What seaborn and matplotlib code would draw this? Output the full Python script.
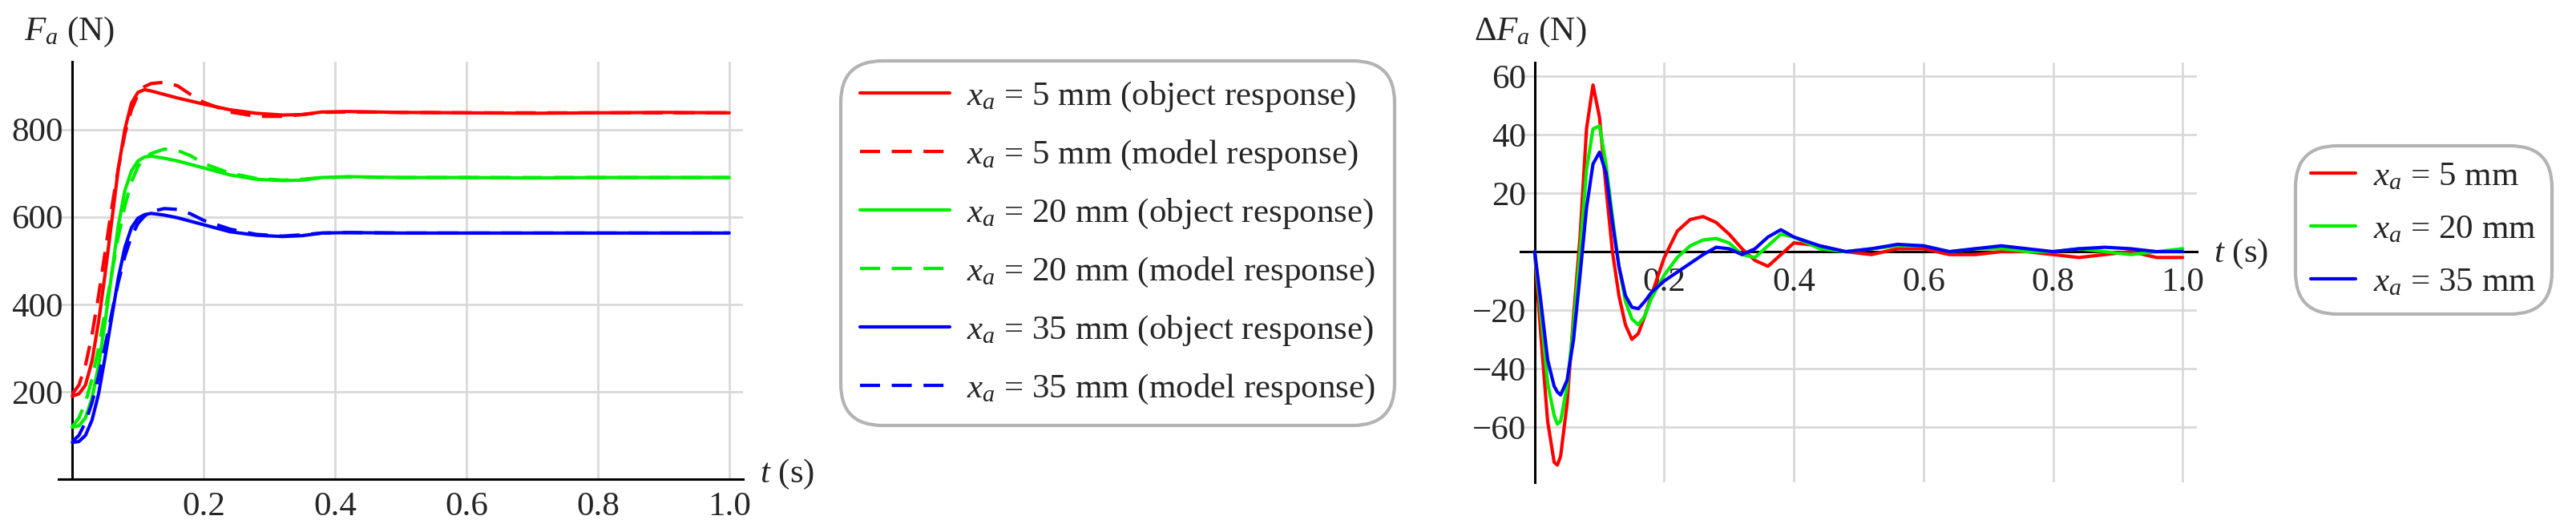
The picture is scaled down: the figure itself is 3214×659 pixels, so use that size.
import numpy as np
import pandas as pd
import seaborn as sns
import matplotlib
matplotlib.use("Agg")
import matplotlib.pyplot as plt
from matplotlib.ticker import FixedLocator
from matplotlib.lines import Line2D

sns.set_style("white")
plt.rcParams['font.family'] = ['Liberation Serif', 'DejaVu Serif']
plt.rcParams['mathtext.fontset'] = 'custom'
plt.rcParams['mathtext.rm'] = 'Liberation Serif'
plt.rcParams['mathtext.it'] = 'Liberation Serif:italic'

# ---------- data: left panel (force response) ----------
t_left = [0, 0.01, 0.02, 0.03, 0.04, 0.05, 0.06, 0.07, 0.08, 0.09, 0.10, 0.11, 0.12,
          0.14, 0.16, 0.18, 0.20, 0.24, 0.28, 0.32, 0.35, 0.38, 0.42, 0.5, 0.6, 0.7, 0.8, 0.9, 1.0]
red_obj   = [190, 195, 215, 270, 360, 470, 590, 710, 800, 860, 885, 891, 888,
             880, 872, 865, 858, 845, 837, 833, 834, 840, 841, 839, 838, 837, 838, 839, 838]
red_mod   = [195, 215, 260, 330, 420, 520, 620, 710, 790, 845, 880, 898, 905,
             908, 900, 880, 862, 840, 830, 830, 834, 839, 840, 839, 838, 838, 838, 838, 838]
green_obj = [119, 122, 140, 185, 260, 360, 470, 580, 660, 705, 728, 737, 739,
             734, 728, 720, 712, 696, 686, 683, 684, 690, 692, 690, 690, 689, 690, 690, 690]
green_mod = [120, 140, 175, 230, 300, 385, 470, 555, 625, 680, 715, 735, 745,
             755, 752, 740, 722, 700, 688, 684, 686, 690, 691, 690, 690, 690, 690, 690, 690]
blue_obj  = [84, 86, 100, 135, 195, 280, 370, 460, 530, 575, 597, 605, 608,
             604, 598, 590, 582, 566, 558, 555, 557, 563, 564, 563, 563, 563, 563, 563, 563]
blue_mod  = [86, 100, 130, 175, 235, 305, 380, 450, 510, 555, 585, 602, 612,
             619, 617, 607, 592, 572, 560, 556, 559, 563, 564, 563, 563, 563, 563, 563, 563]

# ---------- data: right panel (difference) ----------
t_right = [0, 0.01, 0.02, 0.03, 0.035, 0.04, 0.05, 0.06, 0.07, 0.08, 0.09, 0.10, 0.11, 0.12,
           0.13, 0.14, 0.15, 0.16, 0.17, 0.18, 0.20, 0.22, 0.24, 0.26, 0.28, 0.30, 0.32, 0.34,
           0.36, 0.38, 0.40, 0.44, 0.48, 0.52, 0.56, 0.60, 0.64, 0.68, 0.72, 0.76, 0.80, 0.84,
           0.88, 0.92, 0.96, 1.0]
d_red   = [0, -30, -58, -72, -73, -70, -52, -22, 5, 42, 57, 46, 22, 0,
           -15, -25, -30, -28, -22, -15, -2, 7, 11, 12, 10, 6, 1, -3,
           -5, -1, 3, 2, 0, -1, 1, 1, -1, -1, 0, 0, -1, -2,
           -1, 0, -2, -2]
d_green = [0, -22, -45, -56, -59, -58, -46, -25, 0, 28, 42, 43, 30, 12,
           -5, -17, -23, -25, -22, -16, -8, -2, 2, 4, 4.5, 3, -1, -2,
           2, 6, 5, 1, 0, 1, 2, 2, 0, 1, 1, 0, 0, 1,
           0, -1, 0, 1]
d_blue  = [0, -18, -37, -46, -48, -49, -44, -30, -8, 15, 30, 34, 27, 10,
           -5, -15, -19, -19.5, -17, -14, -10, -7, -4, -1, 1.5, 1, -1, 1,
           5, 7.5, 5, 2, 0, 1, 2.5, 2, 0, 1, 2, 1, 0, 1,
           1.5, 1, 0, 0]

colors = {'5': '#ff0000', '20': '#00ee00', '35': '#0000ff'}
W, H = 3214, 659
fig = plt.figure(figsize=(W / 100, H / 100), dpi=100)

def ax_px(x0, x1, y0, y1):
    return fig.add_axes([x0 / W, 1 - y1 / H, (x1 - x0) / W, (y1 - y0) / H])

LW = 3.0
FS = 31
DASH = (0, (6, 3.5))

def style_axes(ax, xlim, ylim, xmajor, ymajor, xminor, yminor, xpad, ypad):
    ax.set_xlim(*xlim)
    ax.set_ylim(*ylim)
    for s in ['top', 'right']:
        ax.spines[s].set_visible(False)
    ax.spines['left'].set_position(('data', 0))
    ax.spines['bottom'].set_position(('data', 0))
    for s in ['left', 'bottom']:
        ax.spines[s].set_linewidth(2.2)
        ax.spines[s].set_color('black')
    ax.xaxis.set_major_locator(FixedLocator(xmajor))
    ax.yaxis.set_major_locator(FixedLocator(ymajor))
    ax.xaxis.set_minor_locator(FixedLocator(xminor))
    ax.yaxis.set_minor_locator(FixedLocator(yminor))
    ax.set_xticklabels([f"{v:.1f}" for v in xmajor])
    ax.set_yticklabels([f"{v:d}".replace('-', '\u2212') for v in ymajor])
    ax.tick_params(which='major', direction='in', length=10, width=2, labelsize=FS, color='black')
    ax.tick_params(which='minor', direction='in', length=6, width=1.6, color='black')
    ax.tick_params(axis='x', which='major', pad=xpad)
    ax.tick_params(axis='y', which='major', pad=ypad)
    for v in xmajor:
        ax.axvline(v, color='#d9d9d9', lw=2, zorder=0)
    for v in ymajor:
        ax.axhline(v, color='#d9d9d9', lw=2, zorder=0)
    ax.set_xlabel('')
    ax.set_ylabel('')

# ---------- left panel ----------
ax1 = ax_px(73, 927, 77, 598)
series_left = [('5', red_obj, red_mod), ('20', green_obj, green_mod), ('35', blue_obj, blue_mod)]
handles = []
for key, obj, mod in series_left:
    df_o = pd.DataFrame({'t': t_left, 'F': obj})
    df_m = pd.DataFrame({'t': t_left, 'F': mod})
    sns.lineplot(data=df_o, x='t', y='F', ax=ax1, color=colors[key], lw=LW, zorder=3)
    sns.lineplot(data=df_m, x='t', y='F', ax=ax1, color=colors[key], lw=LW, ls=DASH, zorder=3)
    handles.append(Line2D([], [], color=colors[key], lw=LW,
                          label=rf'$x_a$ = {key} mm (object response)'))
    handles.append(Line2D([], [], color=colors[key], lw=LW, ls=DASH,
                          label=rf'$x_a$ = {key} mm (model response)'))
style_axes(ax1, (-0.021, 1.021), (0, 955), [0.2, 0.4, 0.6, 0.8, 1.0], [200, 400, 600, 800],
           np.arange(0.05, 1.001, 0.05), np.arange(50, 951, 50), 11, 8)
fig.text(30 / W, 1 - 40 / H, r'$F_a$ (N)', fontsize=FS, va='center', ha='left')
fig.text(948 / W, 1 - 592 / H, r'$t$ (s)', fontsize=FS, va='center', ha='left')

leg1 = fig.legend(handles=handles, loc='upper left', bbox_to_anchor=(1049 / W, 1 - 76 / H),
                  fontsize=FS, frameon=True, fancybox=True, edgecolor='#a0a0a0',
                  handlelength=2.6, labelspacing=0.72, borderpad=0.55, handletextpad=0.5,
                  borderaxespad=0)
leg1.get_frame().set_linewidth(3)
leg1.get_frame().set_boxstyle('round', pad=0.0, rounding_size=1.2)

# ---------- right panel ----------
ax2 = ax_px(1897, 2741, 78, 602)
handles2 = []
for key, d in [('5', d_red), ('20', d_green), ('35', d_blue)]:
    df = pd.DataFrame({'t': t_right, 'dF': d})
    sns.lineplot(data=df, x='t', y='dF', ax=ax2, color=colors[key], lw=LW, zorder=3)
    handles2.append(Line2D([], [], color=colors[key], lw=LW, label=rf'$x_a$ = {key} mm'))
style_axes(ax2, (-0.022, 1.022), (-78.9, 64.7), [0.2, 0.4, 0.6, 0.8, 1.0],
           [-60, -40, -20, 20, 40, 60], np.arange(0.05, 1.001, 0.05),
           [v for v in range(-75, 65, 5) if v != 0], 14, 8)
fig.text(1839 / W, 1 - 40 / H, r'$\Delta F_a$ (N)', fontsize=FS, va='center', ha='left')
fig.text(2762 / W, 1 - 317 / H, r'$t$ (s)', fontsize=FS, va='center', ha='left')

leg2 = fig.legend(handles=handles2, loc='upper left', bbox_to_anchor=(2864 / W, 1 - 182 / H),
                  fontsize=FS, frameon=True, fancybox=True, edgecolor='#a0a0a0',
                  handlelength=1.3, labelspacing=0.62, borderpad=0.45, handletextpad=0.5,
                  borderaxespad=0)
leg2.get_frame().set_linewidth(3)
leg2.get_frame().set_boxstyle('round', pad=0.0, rounding_size=1.2)

fig.savefig('out.png', dpi=100, facecolor='white')
